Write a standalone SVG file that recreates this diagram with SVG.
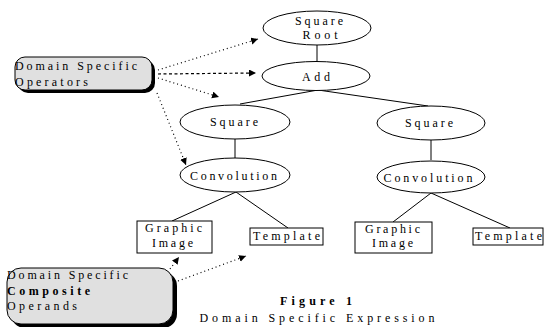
<svg xmlns="http://www.w3.org/2000/svg" width="548" height="327" viewBox="0 0 548 327">
<defs>
<style>
.t{font-family:"Liberation Serif","Times New Roman",serif;font-size:12px;fill:#000}
.m{text-anchor:middle}
.n{fill:#fff;stroke:#000;stroke-width:1}
.e{stroke:#000;stroke-width:1;fill:none}
.d{stroke:#000;stroke-width:1.2;fill:none;stroke-dasharray:1 3;marker-end:url(#ah)}
.dd{stroke:#000;stroke-width:1.2;fill:none;stroke-dasharray:3 2.5;marker-end:url(#ah)}
.box{fill:#e0e0e0;stroke:#000;stroke-width:1}
.sh{fill:#000}
</style>
<marker id="ah" markerWidth="8" markerHeight="8" refX="7" refY="3.5" orient="auto" markerUnits="userSpaceOnUse">
<path d="M0,0 L7,3.5 L0,7 z" fill="#000"/>
</marker>
</defs>
<rect width="548" height="327" fill="#fff"/>
<g id="connectors">
<line class="e" x1="317" y1="45" x2="317" y2="62"/>
<line class="e" x1="318" y1="90" x2="240" y2="104"/>
<line class="e" x1="318" y1="90" x2="428" y2="106"/>
<line class="e" x1="235" y1="139" x2="235" y2="158"/>
<line class="e" x1="431" y1="140" x2="431" y2="160"/>
<line class="e" x1="236" y1="192" x2="172" y2="221"/>
<line class="e" x1="236" y1="192" x2="288" y2="228"/>
<line class="e" x1="431" y1="193" x2="393" y2="222"/>
<line class="e" x1="431" y1="193" x2="510" y2="228"/>
<line class="d" x1="158" y1="70" x2="258" y2="39"/>
<line class="dd" x1="158" y1="74" x2="256" y2="73"/>
<line class="d" x1="158" y1="78" x2="219" y2="97"/>
<line class="d" x1="157" y1="93" x2="186" y2="165"/>
<line class="d" x1="178" y1="281" x2="246" y2="256"/>
<line class="d" x1="170" y1="269" x2="179" y2="257"/>
</g>
<g id="square-root">
<ellipse class="n" cx="317" cy="28" rx="54" ry="17"/>
<text class="t m" x="319" y="25" textLength="48">Square</text>
<text class="t m" x="320" y="39" textLength="35">Root</text>
</g>
<g id="add">
<ellipse class="n" cx="316" cy="76" rx="54" ry="14.5"/>
<text class="t m" x="316" y="81" textLength="28">Add</text>
</g>
<g id="square-left">
<ellipse class="n" cx="235" cy="122" rx="55" ry="17"/>
<text class="t m" x="234" y="126" textLength="48">Square</text>
</g>
<g id="square-right">
<ellipse class="n" cx="431" cy="123" rx="54" ry="17"/>
<text class="t m" x="429" y="127" textLength="48">Square</text>
</g>
<g id="convolution-left">
<ellipse class="n" cx="235" cy="175" rx="55" ry="17"/>
<text class="t m" x="233.5" y="180" textLength="87">Convolution</text>
</g>
<g id="convolution-right">
<ellipse class="n" cx="431" cy="177" rx="54" ry="16"/>
<text class="t m" x="428" y="182" textLength="89">Convolution</text>
</g>
<g id="graphic-image-left">
<rect class="n" x="137" y="221" width="75" height="32"/>
<text class="t m" x="173.5" y="232" textLength="57">Graphic</text>
<text class="t m" x="172.5" y="247" textLength="41">Image</text>
</g>
<g id="template-left">
<rect class="n" x="250" y="228" width="73" height="17"/>
<text class="t m" x="286.5" y="240" textLength="67">Template</text>
</g>
<g id="graphic-image-right">
<rect class="n" x="355" y="222" width="77" height="31"/>
<text class="t m" x="392.5" y="233" textLength="55">Graphic</text>
<text class="t m" x="392.5" y="247" textLength="41">Image</text>
</g>
<g id="template-right">
<rect class="n" x="473" y="228" width="70" height="17"/>
<text class="t m" x="508.5" y="240" textLength="67">Template</text>
</g>
<g id="operators">
<rect class="sh" x="18" y="60" width="137" height="33" rx="10"/>
<rect class="box" x="15" y="57" width="137" height="33" rx="10"/>
<text class="t" x="15" y="70" textLength="122">Domain Specific</text>
<text class="t" x="15" y="86" textLength="73">Operators</text>
</g>
<g id="operands">
<rect class="sh" x="11" y="272" width="166" height="56" rx="14"/>
<rect class="box" x="7" y="268" width="166" height="56" rx="14"/>
<text class="t" x="7" y="279" textLength="121">Domain Specific</text>
<text class="t" x="7" y="295" textLength="83" font-weight="bold">Composite</text>
<text class="t" x="7" y="310" textLength="70">Operands</text>
</g>
<g id="caption">
<text class="t m" x="316" y="305" textLength="72" font-weight="bold">Figure 1</text>
<text class="t m" x="317" y="322" textLength="235">Domain Specific Expression</text>
</g>
</svg>
